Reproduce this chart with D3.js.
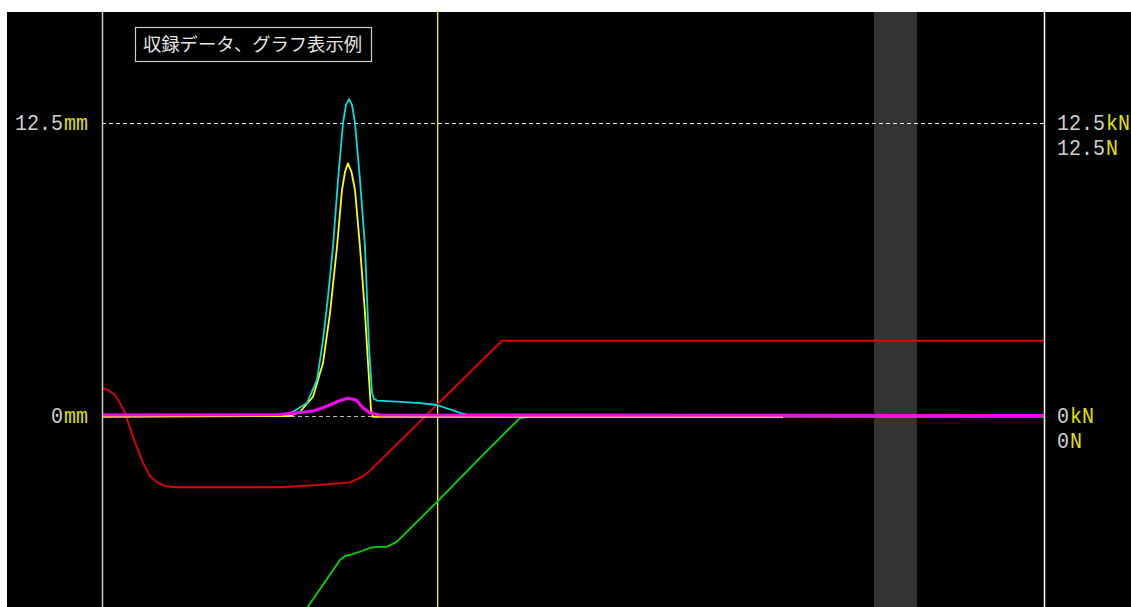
<!DOCTYPE html>
<html><head><meta charset="utf-8">
<script src="https://cdn.jsdelivr.net/npm/d3@7"></script>
<style>
html,body{margin:0;padding:0;background:#fff;}
svg{display:block;}
</style></head>
<body>
<svg id="chart" width="1131" height="607"></svg>
<script>
// ---- data (x in samples, y in mm / kN / N) ----
const xDomain = [0, 942];
const yTicks = [0, 12.5];
const leftTickLabels = [["0", "mm"], ["12.5", "mm"]];
const rightTickLabelsKN = [["0", "kN"], ["12.5", "kN"]];
const rightTickLabelsN = [["0", "N"], ["12.5", "N"]];
const title = "収録データ、グラフ表示例";
const cursorX = 335;
const bandRange = [772, 815];

const cyanX = [0, 98, 178, 191, 205, 215, 221, 226, 231, 236, 241, 244, 247, 250, 253, 258, 263, 265, 267, 270, 272, 275, 295, 318, 335, 358, 365, 942];
const cyanY = [0.04, 0.04, 0.04, 0.18, 0.55, 1.54, 3.24, 5.08, 7.21, 10.07, 12.5, 13.27, 13.52, 13.27, 12.5, 10.07, 7.21, 5.08, 2.94, 0.98, 0.73, 0.66, 0.61, 0.55, 0.47, 0.13, 0.06, 0.04];

const yellowX = [0, 188, 198, 211, 221, 228, 235, 240, 243, 246, 249.5, 253, 258, 263, 266, 269, 271, 681];
const yellowY = [-0.04, 0, 0.18, 0.82, 2.26, 4.39, 7.22, 9.64, 10.41, 10.78, 10.41, 9.64, 7.21, 4.39, 2.26, 0.26, -0.04, -0.04];

const magentaX = [0, 178, 198, 211, 228, 238, 246, 254, 261, 268, 278, 942];
const magentaY = [0.04, 0.06, 0.15, 0.21, 0.47, 0.66, 0.76, 0.68, 0.34, 0.13, 0.04, 0.02];

const redX = [0, 6, 13, 18, 23, 31, 41, 48, 55, 63, 73, 178, 218, 248, 260, 268, 400, 942];
const redY = [1.18, 1.11, 0.9, 0.55, 0.13, -0.9, -2.0, -2.56, -2.82, -2.99, -3.04, -3.04, -2.94, -2.83, -2.6, -2.33, 3.21, 3.21];

const greenX = [200, 238, 243, 248, 260, 268, 275, 285, 295, 335, 378, 408, 418, 428, 942];
const greenY = [-8.5, -6.14, -5.97, -5.93, -5.76, -5.63, -5.58, -5.58, -5.36, -3.66, -1.79, -0.51, -0.09, -0.04, -0.04];

const orangeX = [695, 942];
const orangeY = [0.03, 0.03];

// ---- layout ----
const svg = d3.select("#chart");
const plot = {left: 102, right: 1044, top: 12, bottom: 607};
const x = d3.scaleLinear().domain(xDomain).range([plot.left, plot.right]);
const y = d3.scaleLinear().domain([0, 12.5]).range([416, 123]);

svg.append("rect").attr("x", 7).attr("y", 12).attr("width", 1131 - 7).attr("height", 607 - 12).attr("fill", "#000");

const defs = svg.append("defs");
defs.append("clipPath").attr("id", "clip").append("rect")
  .attr("x", plot.left).attr("y", plot.top)
  .attr("width", plot.right - plot.left).attr("height", plot.bottom - plot.top);

// gray band
svg.append("rect")
  .attr("x", x(bandRange[0])).attr("y", plot.top)
  .attr("width", x(bandRange[1]) - x(bandRange[0])).attr("height", plot.bottom - plot.top)
  .attr("fill", "#333");

// dashed gridlines
svg.selectAll("line.grid").data(yTicks).enter().append("line")
  .attr("class", "grid")
  .attr("x1", plot.left).attr("x2", plot.right)
  .attr("y1", d => y(d) + 0.5).attr("y2", d => y(d) + 0.5)
  .attr("stroke", d => d === 0 ? "#bbb" : "#eee")
  .attr("stroke-width", 1)
  .attr("stroke-dasharray", "4,3");

// cursor line (yellow)
svg.append("rect")
  .attr("x", x(cursorX)).attr("y", plot.top)
  .attr("width", 1.3).attr("height", plot.bottom - plot.top)
  .attr("fill", "#f0f000");

const g = svg.append("g").attr("clip-path", "url(#clip)");
const line = d3.line().x(d => x(d[0])).y(d => y(d[1]));
function series(xs, ys, color, w) {
  g.append("path")
    .datum(d3.zip(xs, ys))
    .attr("d", line)
    .attr("fill", "none")
    .attr("stroke", color)
    .attr("stroke-width", w)
    .attr("stroke-linejoin", "round");
}
series(redX, redY, "#e60000", 1.8);
series(greenX, greenY, "#00d800", 1.8);
series(orangeX, orangeY, "#f08050", 1.8);
series(yellowX, yellowY, "#ffff00", 1.8);
series(cyanX, cyanY, "#00e0e0", 1.8);
series(magentaX, magentaY, "#ff00ff", 3);

// vertical axes lines
[plot.left, plot.right].forEach(px => {
  svg.append("line")
    .attr("x1", px + 0.5).attr("x2", px + 0.5)
    .attr("y1", plot.top).attr("y2", plot.bottom)
    .attr("stroke", px === plot.left ? "#ccc" : "#fff").attr("stroke-width", 1.5);
});

// labels: number (light gray) + unit (yellow), 12px per character
const fontFam = "'Liberation Mono', 'DejaVu Sans Mono', monospace";
const charW = 12;
function label(xStart, baseY, parts) {
  const grp = svg.append("g").attr("transform", `translate(${xStart},${baseY}) scale(1,1.14)`);
  grp.append("text")
    .attr("x", 0).attr("y", 0)
    .attr("font-family", fontFam).attr("font-size", 20)
    .attr("fill", "#d0d0d0")
    .text(parts[0]);
  grp.append("text")
    .attr("x", parts[0].length * charW + 1).attr("y", 0)
    .attr("font-family", fontFam).attr("font-size", 20)
    .attr("fill", "#e0e000")
    .text(parts[1]);
}
yTicks.forEach((v, i) => {
  const lp = leftTickLabels[i];
  label(88 - (lp[0].length + lp[1].length) * charW - 1, y(v) + 7, lp);
  label(1057, y(v) + 7, rightTickLabelsKN[i]);
  label(1057, y(v) + 32, rightTickLabelsN[i]);
});

// title box
svg.append("rect")
  .attr("x", 135.5).attr("y", 27.5).attr("width", 236).attr("height", 34)
  .attr("fill", "#000").attr("stroke", "#ccc").attr("stroke-width", 1.2);
svg.append("text")
  .attr("x", 143).attr("y", 50.5)
  .attr("font-family", "'Noto Sans CJK JP', sans-serif")
  .attr("font-size", 18)
  .attr("fill", "#e6e6e6")
  .attr("textLength", 219).attr("lengthAdjust", "spacingAndGlyphs")
  .text(title);
</script>
</body></html>
